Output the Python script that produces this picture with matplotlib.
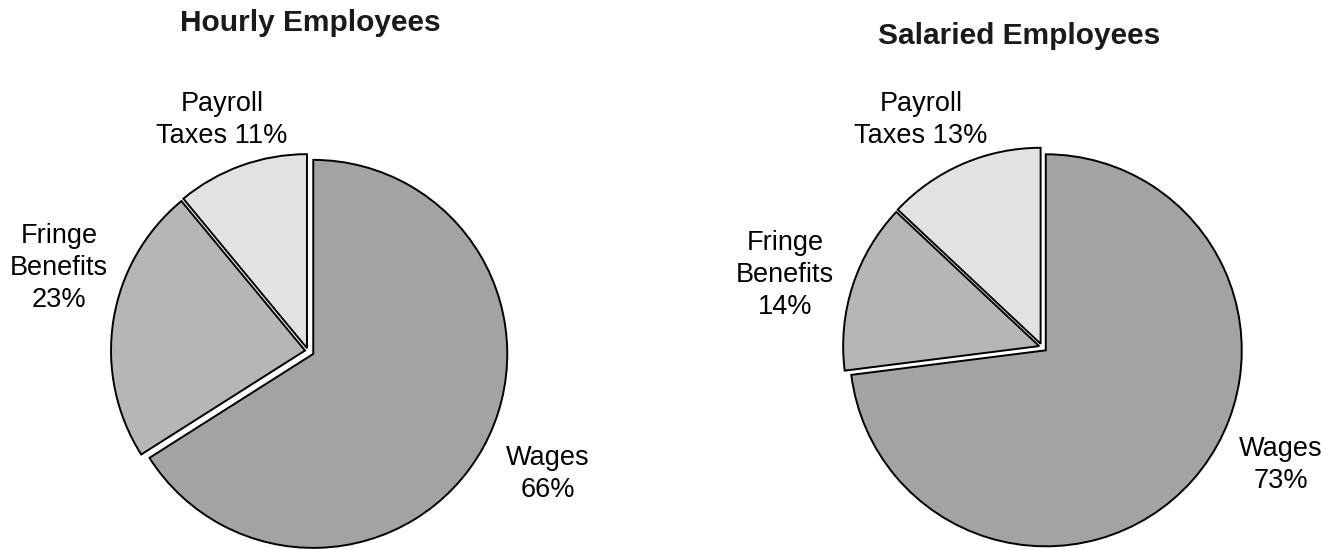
import matplotlib.pyplot as plt

# slice order: clockwise from 12 o'clock
labels = ['Wages', 'Fringe\nBenefits', 'Payroll\nTaxes']
hourly = [66, 23, 11]
salaried = [73, 14, 13]
titles = ['Hourly Employees', 'Salaried Employees']

colors = ['#a3a3a3', '#b6b6b6', '#e2e2e2']

W, H = 1338, 549


def flip(y):
    # pixel row (from top) -> data y
    return H - y


fig = plt.figure(figsize=(W / 100, H / 100), dpi=100)
ax = fig.add_axes([0, 0, 1, 1])
plt.rcParams['font.family'] = ['Liberation Sans', 'DejaVu Sans']

# explode is in data units here (= pixels), pie doesn't scale it by radius
pies = [
    # values, centre (px), radius (px), explode, title pos, label positions
    (hourly, (308, 351), 194, [6, 3, 3], (310, 23),
     [(548, 474), (59, 268), (222, 120)]),
    (salaried, (1042, 347), 196, [5, 3, 3.5], (1019, 36),
     [(1281, 465), (785, 275), (921, 120)]),
]

for (vals, c, r, expl, tpos, lpos), title in zip(pies, titles):
    ax.pie(vals, colors=colors, startangle=90, counterclock=False,
           center=(c[0], flip(c[1])), radius=r, explode=expl,
           wedgeprops=dict(edgecolor='black', linewidth=1.4))
    ax.text(tpos[0], flip(tpos[1]), title, ha='center', va='center',
            fontsize=21.5, fontweight='bold', color='#1a1a1a')
    for lab, v, (x, y) in zip(labels, vals, lpos):
        if lab.startswith('Payroll'):
            txt = f'Payroll\nTaxes {v}%'
        else:
            txt = f'{lab}\n{v}%'
        ax.text(x, flip(y), txt, ha='center', va='center', fontsize=19.5,
                linespacing=1.3, color='black')

ax.set_xlim(0, W)
ax.set_ylim(0, H)
ax.axis('off')

fig.savefig('out.png', dpi=100, facecolor='white')
